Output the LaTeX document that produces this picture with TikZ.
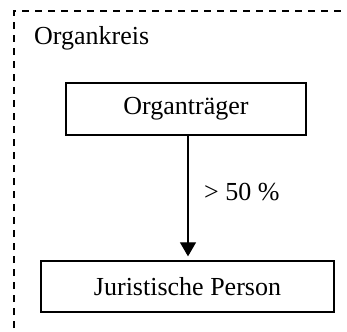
\documentclass[tikz,border=0pt]{standalone}
\usepackage{fontspec}
\setmainfont{Liberation Serif}
\usetikzlibrary{arrows.meta}
\begin{document}
\begin{tikzpicture}[x=1pt,y=-1pt,
  every node/.style={font=\fontsize{26}{30}\selectfont},
  boxnode/.style={draw,line width=1.3pt,inner sep=0pt},
  linkarrow/.style={line width=1.1pt,-{Triangle[length=14pt,width=16pt]},shorten >=4pt}]
\useasboundingbox (0,0) rectangle (347,331);
\clip (0,0) rectangle (347,331);
% outer group frame, running past the right and lower edges
\draw[line width=1.1pt,dash pattern=on 7pt off 6pt] (14,380) -- (14,11) -- (400,11);
\node[anchor=base west,inner sep=0pt] (kreis) at (34,45) {Organkreis};
\node[boxnode,minimum width=240pt,minimum height=52pt] (traeger) at (186,109) {Organträger};
\node[boxnode,minimum width=293pt,minimum height=51pt] (person) at (187.5,286.5) {Juristische Person};
\draw[linkarrow] ([xshift=2pt]traeger.south) -- ([xshift=0.5pt]person.north);
\node[anchor=base west,inner sep=0pt] (anteil) at (204,200) {> 50 \%};
\end{tikzpicture}
\end{document}
